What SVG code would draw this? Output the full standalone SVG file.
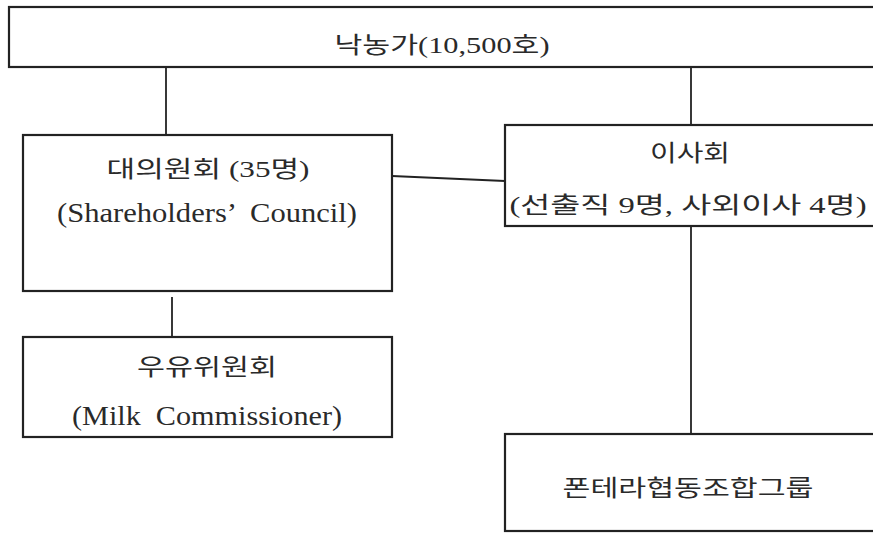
<svg xmlns="http://www.w3.org/2000/svg" width="873" height="533" viewBox="0 0 873 533">
<style>
.box{fill:#fff;stroke:#222;stroke-width:2.2}
.ln{stroke:#222;stroke-width:1.8;fill:none}
.t{font-family:"Liberation Serif","Noto Sans CJK KR",serif;fill:#2a2a2a;text-anchor:middle}
.k{font-size:23px}
.e{font-size:28px;white-space:pre}
</style>
<rect width="873" height="533" fill="#fff"/>
<g id="connectors">
<line class="ln" x1="166" y1="67" x2="166" y2="135"/>
<line class="ln" x1="691" y1="67" x2="691" y2="125"/>
<line class="ln" x1="392" y1="176" x2="505" y2="181"/>
<line class="ln" x1="172" y1="297" x2="172" y2="337"/>
<line class="ln" x1="691" y1="226" x2="691" y2="434"/>
</g>
<g id="dairy-farmers">
<rect class="box" x="9" y="7" width="880" height="60"/>
<text class="t k" x="442" y="53" textLength="215" lengthAdjust="spacingAndGlyphs">낙농가(10,500호)</text>
</g>
<g id="shareholders-council">
<rect class="box" x="23" y="135" width="369" height="156"/>
<text class="t k" x="208" y="177" textLength="203" lengthAdjust="spacingAndGlyphs">대의원회 (35명)</text>
<text class="t e" x="207" y="222" textLength="300" lengthAdjust="spacingAndGlyphs">(Shareholders’  Council)</text>
</g>
<g id="board">
<rect class="box" x="505" y="125" width="380" height="101"/>
<text class="t k" x="690" y="161" textLength="80" lengthAdjust="spacingAndGlyphs">이사회</text>
<text class="t k" x="688" y="213" textLength="357" lengthAdjust="spacingAndGlyphs">(선출직 9명, 사외이사 4명)</text>
</g>
<g id="milk-commissioner">
<rect class="box" x="23" y="337" width="369" height="100"/>
<text class="t k" x="207" y="375" textLength="140" lengthAdjust="spacingAndGlyphs">우유위원회</text>
<text class="t e" x="207" y="425" textLength="270" lengthAdjust="spacingAndGlyphs">(Milk  Commissioner)</text>
</g>
<g id="fonterra">
<rect class="box" x="505" y="434" width="380" height="97"/>
<text class="t k" x="688" y="496" textLength="251" lengthAdjust="spacingAndGlyphs">폰테라협동조합그룹</text>
</g>
</svg>
